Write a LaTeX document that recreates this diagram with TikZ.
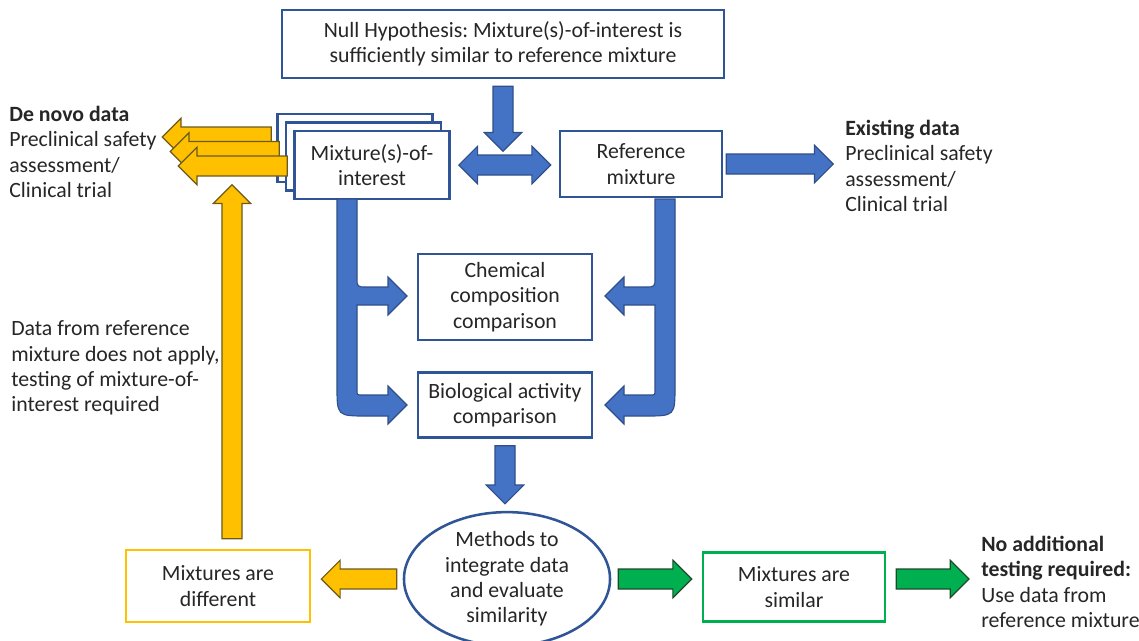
\documentclass[tikz,border=0pt]{standalone}
\usepackage{fontspec}
\setmainfont{Carlito}
\frenchspacing
\usetikzlibrary{shapes.geometric,shapes.arrows,calc}
\definecolor{bbox}{HTML}{2F5597}
\definecolor{bfill}{HTML}{4472C4}
\definecolor{bline}{HTML}{2F4F8A}
\definecolor{yfill}{HTML}{FFC000}
\definecolor{yline}{HTML}{6B5A1E}
\definecolor{gfill}{HTML}{00B050}
\definecolor{gline}{HTML}{1E4A2A}
\definecolor{txt}{HTML}{262626}
\def\sw{0.25cm}
\def\hw{0.47cm}
\def\hl{0.47cm}
\tikzstyle{box} = [rectangle, draw=bbox, line width=1.8pt, fill=white, align=center, inner sep=0pt, text=txt]
\tikzstyle{txtblk} = [align=left, inner sep=0pt, text=txt, anchor=west]
\tikzstyle{flowb} = [fill=bfill, draw=bline, line width=0.8pt]
\tikzstyle{flowy} = [fill=yfill, draw=yline, line width=0.8pt]
\tikzstyle{flowg} = [fill=gfill, draw=gline, line width=0.8pt]
\tikzstyle{fat} = [to path={($(\tikztostart)!\sw!90:(\tikztotarget)$)
  -- ($(\tikztotarget)!\hl!(\tikztostart)!\sw!90:(\tikztotarget)$)
  -- ($(\tikztotarget)!\hl!(\tikztostart)!\hw!90:(\tikztotarget)$)
  -- (\tikztotarget)
  -- ($(\tikztotarget)!\hl!(\tikztostart)!\hw!-90:(\tikztotarget)$)
  -- ($(\tikztotarget)!\hl!(\tikztostart)!\sw!-90:(\tikztotarget)$)
  -- ($(\tikztostart)!\sw!-90:(\tikztotarget)$) -- cycle}]
\tikzstyle{fatboth} = [to path={(\tikztostart)
  -- ($(\tikztostart)!\hl!(\tikztotarget)!\hw!90:(\tikztotarget)$)
  -- ($(\tikztostart)!\hl!(\tikztotarget)!\sw!90:(\tikztotarget)$)
  -- ($(\tikztotarget)!\hl!(\tikztostart)!\sw!90:(\tikztotarget)$)
  -- ($(\tikztotarget)!\hl!(\tikztostart)!\hw!90:(\tikztotarget)$)
  -- (\tikztotarget)
  -- ($(\tikztotarget)!\hl!(\tikztostart)!\hw!-90:(\tikztotarget)$)
  -- ($(\tikztotarget)!\hl!(\tikztostart)!\sw!-90:(\tikztotarget)$)
  -- ($(\tikztostart)!\hl!(\tikztotarget)!\sw!-90:(\tikztotarget)$)
  -- ($(\tikztostart)!\hl!(\tikztotarget)!\hw!-90:(\tikztotarget)$) -- cycle}]

\begin{document}
\begin{tikzpicture}[x=0.025cm, y=-0.025cm, font=\fontsize{15.5pt}{18pt}\selectfont]
    \useasboundingbox (0,0) rectangle (1139,640);
    \node (hyp)[box, minimum width=11.05cm, minimum height=1.7cm] at (503,44) {Null Hypothesis: Mixture(s)-of-interest is\\sufficiently similar to reference mixture};
    \node (mixc)[box, minimum width=3.875cm, minimum height=1.7cm] at (355,148) {};
    \node (mixb)[box, minimum width=3.875cm, minimum height=1.7cm] at (363.5,156.5) {};
    \node (mix)[box, minimum width=3.875cm, minimum height=1.7cm] at (372,165) {Mixture(s)-of-\\interest};
    \node (ref)[box, minimum width=4.05cm, minimum height=1.65cm] at (641,164) {Reference\\mixture};
    \node (chem)[box, minimum width=4.35cm, minimum height=2.15cm] at (505,297) {Chemical\\composition\\comparison};
    \node (bio)[box, minimum width=4.35cm, minimum height=1.625cm] at (505,405) {Biological activity\\comparison};
    \node (meth)[box, ellipse, minimum width=5.15cm, minimum height=2.925cm] at (507,579) {Methods to\\integrate data\\and evaluate\\similarity};
    \node (diff)[box, draw=yfill, minimum width=4.6cm, minimum height=1.8cm] at (218,586) {Mixtures are\\different};
    \node (sim)[box, draw=gfill, minimum width=4.55cm, minimum height=1.725cm] at (794,587) {Mixtures are\\similar};
    \node (denovo)[txtblk] at (9,152) {\textbf{De novo data}\\Preclinical safety\\assessment/\\Clinical trial};
    \node (exist)[txtblk] at (845,166) {\textbf{Existing data}\\Preclinical safety\\assessment/\\Clinical trial};
    \node (nodata)[txtblk] at (11,368) {Data from reference\\mixture does not apply,\\testing of mixture-of-\\interest required};
    \node (noadd)[txtblk] at (981,582) {\textbf{No additional}\\\textbf{testing required:}\\Use data from\\reference mixture};
    \draw [fat, flowb] ($(hyp.south)+(0,7)$) to ($(hyp.south)+(0,72)$);
    \draw [fatboth, flowb] ($(mix.east)+(8,0)$) to ($(mix.east -| ref.west)+(-8,0)$);
    \draw [fat, flowb] ($(ref.east)+(3,0)$) to ($(ref.east)+(110,0)$);
    \foreach \d in {2,1,0}
      \draw [fat, flowy] ($(mix.west)+({-6-8*\d},{1-14.5*\d})$) to ($(mix.west)+({-115-8*\d},{1-14.5*\d})$);
    \draw [fat, flowy] ($(diff.north)+(14,-10)$) to ($(diff.north)+(14,-364)$);
    \draw [fat, flowb] ($(bio.south)+(0,7)$) to ($(bio.south |- meth.north)+(0,-7)$);
    \draw [fat, flowy] ($(meth.west)+(-6,0)$) to ($(meth.west -| diff.east)+(10,0)$);
    \draw [fat, flowg] ($(meth.east)+(7,0)$) to ($(meth.east -| sim.west)+(-10,0)$);
    \draw [fat, flowg] ($(sim.east |- meth.east)+(10,0)$) to ($(noadd.west |- meth.east)+(-12,0)$);
    \draw [flowb] (337,199) -- (357,199) -- (357,277) .. controls (357,287) .. (367,287) -- (388,287) -- (388,277) -- (407,296) -- (388,315) -- (388,305) -- (357,305) -- (357,390) .. controls (357,395) .. (362,395) -- (388,395) -- (388,386) -- (407,405) -- (388,424) -- (388,416) -- (367,416) .. controls (337,416) .. (337,386) -- cycle;
    \draw [flowb] (675,199) -- (655,199) -- (655,277) .. controls (655,287) .. (645,287) -- (624,287) -- (624,277) -- (605,296) -- (624,315) -- (624,305) -- (655,305) -- (655,390) .. controls (655,395) .. (650,395) -- (624,395) -- (624,386) -- (605,405) -- (624,424) -- (624,416) -- (645,416) .. controls (675,416) .. (675,386) -- cycle;
\end{tikzpicture}
\end{document}
